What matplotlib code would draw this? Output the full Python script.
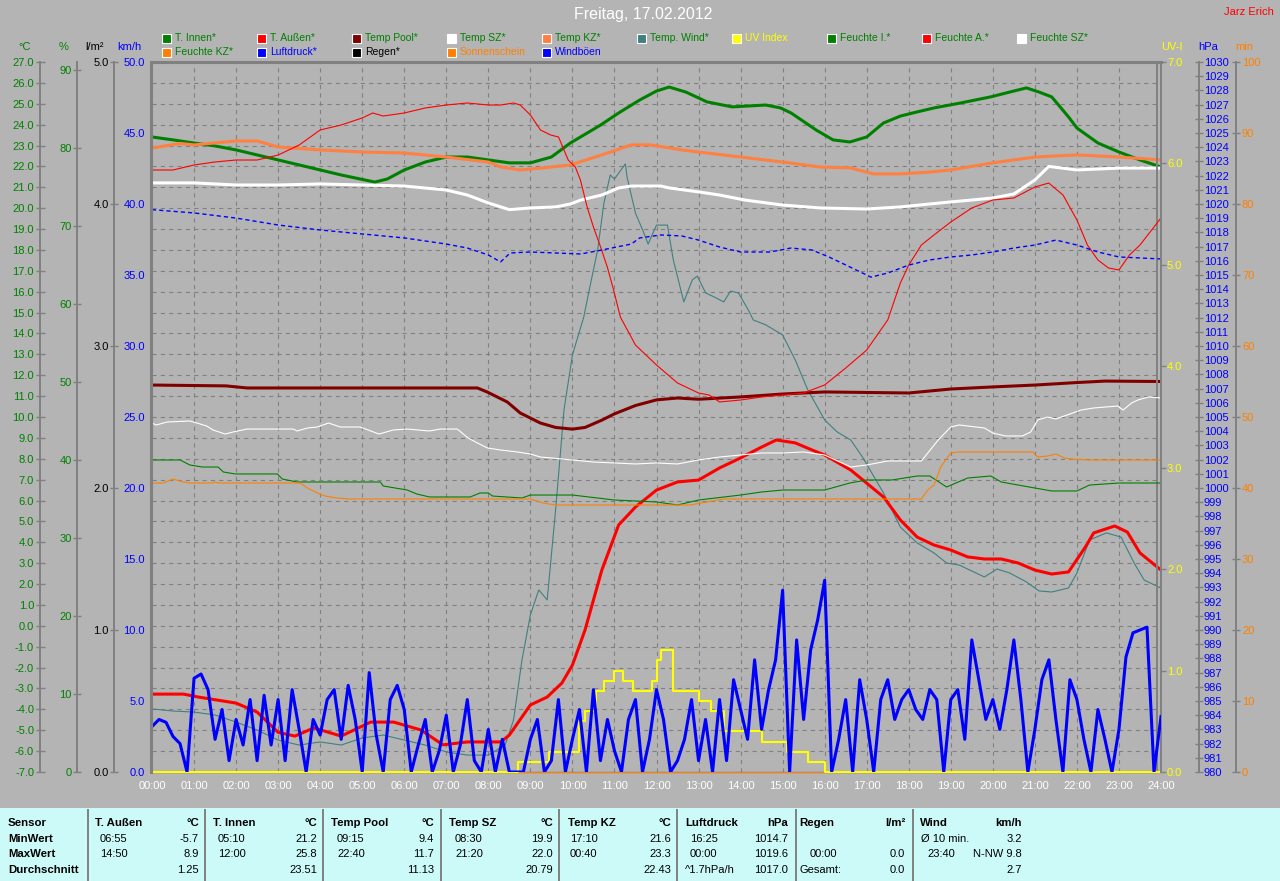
import numpy as np
import matplotlib
matplotlib.use('Agg')
import matplotlib.pyplot as plt
from matplotlib.patches import Rectangle
from matplotlib.lines import Line2D

plt.rcParams['font.family'] = ['Liberation Sans', 'DejaVu Sans']
plt.rcParams['lines.scale_dashes'] = False
plt.rcParams['axes.unicode_minus'] = False

# ---------------- data (hours of day / values) ----------------
t_innen_t = [0, 0.5, 1, 1.5, 2, 2.5, 3, 3.5, 4, 4.5, 5.3, 5.6, 6.0, 6.5, 7.0, 7.5, 8.0, 8.5, 9.0, 9.5,
             9.95, 10.67, 11.1, 11.6, 12.0, 12.3, 12.7, 13.2, 13.8, 14.6, 14.95, 15.2, 15.8, 16.2, 16.6,
             17.0, 17.4, 17.8, 18.2, 18.6, 19.24, 19.95, 20.4, 20.8, 21.1, 21.4, 21.6, 21.8, 22.0, 22.5,
             23.0, 23.5, 24.0]
t_innen_v = [23.41, 23.27, 23.12, 22.98, 22.79, 22.55, 22.31, 22.07, 21.83, 21.59, 21.25, 21.4, 21.83,
             22.21, 22.45, 22.45, 22.31, 22.17, 22.17, 22.45, 23.12, 23.98, 24.56, 25.18, 25.61, 25.8,
             25.56, 25.09, 24.85, 24.94, 24.80, 24.56, 23.74, 23.27, 23.17, 23.41, 24.08, 24.41, 24.61,
             24.80, 25.04, 25.33, 25.56, 25.76, 25.56, 25.33, 24.85, 24.37, 23.84, 23.12, 22.69, 22.31, 21.97]

t_aussen_t = [0, 0.75, 1.1, 2.0, 2.5, 3.0, 3.4, 3.85, 4.5, 5.2, 5.75, 6.4, 6.92, 7.5, 8.3, 8.5, 8.75,
              9.0, 9.4, 9.75, 10.0, 10.3, 10.7, 11.1, 11.5, 12.0, 12.5, 13.0, 13.5, 14.0, 14.5, 14.85,
              15.3, 15.7, 16.0, 16.62, 17.4, 17.8, 18.2, 18.6, 19.0, 19.4, 19.8, 20.2, 20.6, 21.0, 21.4,
              21.8, 22.2, 22.4, 22.9, 23.2, 23.5, 24.0]
t_aussen_v = [-3.27, -3.27, -3.41, -3.70, -4.13, -5.10, -5.28, -4.89, -5.28, -4.61, -4.61, -4.99, -5.70,
              -5.56, -5.56, -5.23, -4.51, -3.79, -3.41, -2.74, -1.88, -0.20, 2.67, 4.83, 5.69, 6.50, 6.89,
              6.98, 7.56, 8.04, 8.56, 8.90, 8.76, 8.42, 8.18, 7.46, 6.17, 5.07, 4.25, 3.87, 3.63, 3.30,
              3.20, 3.20, 3.01, 2.67, 2.48, 2.58, 3.77, 4.45, 4.78, 4.49, 3.49, 2.67]

pool_t = [0, 1.76, 2.26, 7.74, 7.97, 8.45, 8.76, 9.24, 9.6, 10.0, 10.3, 10.7, 11.0, 11.5, 12.0, 12.5,
          13.0, 14.0, 15.0, 16.0, 18.0, 19.0, 20.0, 21.0, 22.0, 22.67, 24.0]
pool_v = [11.53, 11.49, 11.39, 11.39, 11.20, 10.72, 10.19, 9.71, 9.50, 9.42, 9.50, 9.85, 10.15, 10.55,
          10.82, 10.91, 10.85, 10.96, 11.10, 11.20, 11.15, 11.34, 11.44, 11.53, 11.65, 11.72, 11.70]

sz_t = [0, 1, 2, 3, 4, 5, 6, 7, 7.5, 8.0, 8.5, 9.0, 9.6, 9.95, 10.2, 10.7, 11.1, 11.4, 12.1, 12.3, 13.0,
        13.5, 14.1, 15.0, 15.9, 17.0, 17.8, 18.5, 19.0, 19.5, 20.0, 20.5, 21.0, 21.33, 22.0, 23.0, 24.0]
sz_v = [21.21, 21.21, 21.11, 21.11, 21.16, 21.11, 21.06, 20.87, 20.63, 20.25, 19.93, 20.01, 20.06, 20.20,
        20.39, 20.63, 20.97, 21.06, 21.06, 20.97, 20.78, 20.63, 20.39, 20.15, 20.01, 19.96, 20.06, 20.20,
        20.30, 20.39, 20.49, 20.68, 21.35, 22.0, 21.83, 21.92, 21.92]

kz_t = [0, 0.67, 1.0, 2.0, 2.5, 3.0, 4.0, 5.0, 6.0, 7.0, 8.0, 8.3, 8.76, 9.3, 9.95, 10.7, 11.4, 11.86,
        12.6, 13.0, 14.0, 15.0, 15.9, 16.6, 17.17, 17.8, 18.5, 19.0, 20.0, 21.0, 22.0, 23.0, 24.0]
kz_v = [22.88, 23.10, 23.03, 23.22, 23.22, 22.93, 22.79, 22.69, 22.64, 22.45, 22.21, 21.97, 21.83, 21.93,
        22.07, 22.55, 23.03, 23.03, 22.79, 22.69, 22.45, 22.21, 21.97, 21.93, 21.64, 21.64, 21.73, 21.83,
        22.17, 22.45, 22.55, 22.45, 22.31]

twind_t = [0, 0.5, 1.0, 1.5, 2.0, 2.5, 3.0, 3.5, 4.0, 4.5, 5.0, 5.5, 6.0, 6.5, 7.0, 7.5, 8.0, 8.4, 8.6,
           8.8, 9.0, 9.2, 9.4, 9.6, 9.8, 10.0, 10.27, 10.4, 10.6, 10.75, 10.9, 11.0, 11.26, 11.3, 11.5,
           11.7, 11.8, 12.0, 12.26, 12.4, 12.65, 12.85, 12.97, 13.17, 13.37, 13.6, 13.76, 13.95, 14.2,
           14.3, 14.6, 15.0, 15.3, 15.6, 16.0, 16.3, 16.62, 16.9, 17.4, 17.8, 18.2, 18.6, 18.9, 19.2,
           19.8, 20.1, 20.4, 20.8, 21.1, 21.4, 21.8, 22.0, 22.3, 22.7, 23.05, 23.36, 23.6, 24.0]
twind_v = [-3.98, -4.08, -4.13, -4.27, -4.61, -4.99, -5.47, -5.71, -5.56, -5.71, -5.37, -5.23, -5.47,
           -5.71, -6.04, -6.19, -6.19, -5.71, -4.51, -1.64, 0.52, 1.72, 1.24, 5.55, 10.34, 12.97, 14.79,
           16.08, 18.00, 20.25, 21.59, 21.40, 22.12, 21.49, 19.76, 18.81, 18.28, 19.19, 19.19, 17.52,
           15.51, 16.56, 16.75, 15.94, 15.75, 15.51, 16.03, 15.94, 15.07, 14.65, 14.41, 13.93, 12.73,
           11.29, 9.86, 9.28, 8.90, 8.08, 6.36, 4.73, 3.97, 3.49, 3.01, 2.91, 2.34, 2.72, 2.53, 2.10,
           1.67, 1.62, 1.81, 2.53, 4.11, 4.45, 4.25, 3.01, 2.19, 1.81]

uv_t = [0, 8.7, 9.45, 10.15, 10.3, 10.55, 10.75, 11.0, 11.2, 11.45, 11.9, 12.0, 12.1, 12.4, 13.0, 13.3,
        13.6, 13.9, 14.5, 14.8, 15.1, 15.6, 16.0, 24]
uv_v = [0.0, 0.1, 0.2, 0.5, 0.6, 0.8, 0.9, 1.0, 0.9, 0.8, 0.9, 1.1, 1.2, 0.8, 0.7, 0.6, 0.4, 0.4, 0.3,
        0.3, 0.2, 0.1, 0.0, 0.0]

fi_t = [0, 0.67, 0.9, 1.2, 1.57, 1.7, 1.98, 2.98, 3.1, 3.45, 5.43, 5.5, 6.07, 6.3, 6.6, 7.57, 7.8, 8.0,
        8.1, 8.8, 9.0, 10.0, 11.0, 12.0, 12.5, 13.0, 14.0, 14.5, 15.0, 16.0, 16.6, 17.0, 17.6, 18.2, 18.5,
        18.9, 19.4, 19.95, 20.2, 21.0, 21.4, 22.0, 22.3, 23.0, 24.0]
fi_v = [40.0, 40.0, 39.36, 39.10, 39.10, 38.46, 38.21, 38.21, 37.56, 37.18, 37.18, 36.67, 36.15, 35.64,
        35.26, 35.26, 35.77, 35.77, 35.38, 35.13, 35.51, 35.51, 34.87, 34.62, 34.23, 34.87, 35.51, 35.90,
        36.15, 36.15, 37.05, 37.44, 37.44, 37.95, 37.95, 36.54, 37.69, 37.95, 37.18, 36.41, 36.03, 36.03,
        36.79, 37.05, 37.05]

fa_t = [0, 0.5, 1.0, 1.5, 2.0, 2.5, 3.0, 3.5, 4.0, 4.5, 5.0, 5.25, 5.5, 6.0, 6.5, 7.0, 7.5, 8.0, 8.29,
        8.6, 8.76, 9.0, 9.24, 9.48, 9.67, 9.8, 9.9, 10.07, 10.19, 10.35, 10.5, 10.67, 10.83, 10.98,
        11.14, 11.5, 12.0, 12.5, 13.0, 13.25, 13.5, 14.0, 14.5, 15.0, 15.5, 16.0, 16.5, 17.0, 17.5,
        17.8, 18.0, 18.3, 18.6, 19.0, 19.5, 20.0, 20.5, 21.0, 21.33, 21.67, 22.0, 22.25, 22.5, 22.75,
        23.0, 23.25, 23.5, 24.0]
fa_v = [77.18, 77.18, 77.82, 78.21, 78.46, 78.46, 79.10, 80.38, 82.31, 82.95, 83.85, 84.49, 84.10,
        84.49, 85.13, 85.51, 85.77, 85.51, 85.51, 85.77, 85.51, 84.23, 82.31, 81.67, 81.41, 79.74,
        78.46, 77.56, 75.90, 72.44, 69.87, 67.31, 64.74, 61.79, 58.33, 54.74, 52.18, 49.87, 48.59,
        48.33, 47.44, 47.69, 48.08, 48.33, 48.59, 49.62, 51.79, 54.10, 57.95, 62.69, 65.0, 67.56,
        68.85, 70.51, 72.31, 73.33, 73.59, 75.0, 75.51, 73.97, 70.77, 67.56, 65.64, 64.62, 64.36,
        66.28, 67.56, 71.03]

fsz_t = [0, 0.1, 0.36, 0.9, 1.07, 1.3, 1.45, 1.74, 1.93, 2.26, 3.36, 3.45, 3.7, 3.93, 4.2, 4.48, 4.95,
         5.4, 5.74, 6.07, 6.6, 6.86, 7.26, 7.52, 7.74, 7.98, 8.29, 8.69, 9.0, 9.24, 9.5, 10.0, 10.5,
         11.0, 11.5, 12.0, 12.5, 13.0, 13.5, 14.0, 14.5, 15.0, 15.5, 16.0, 16.62, 17.0, 17.5, 18.3,
         18.7, 19.0, 19.2, 19.8, 20.0, 20.3, 20.7, 20.9, 21.07, 21.3, 21.5, 21.9, 22.1, 22.4, 22.97,
         23.1, 23.3, 23.45, 23.7, 24.0]
fsz_v = [44.74, 44.49, 44.87, 45.0, 44.74, 44.36, 43.85, 43.33, 43.59, 43.97, 43.97, 43.72, 44.10,
         44.23, 44.74, 44.23, 44.23, 43.33, 43.85, 43.97, 43.72, 43.97, 43.97, 42.82, 42.18, 41.54,
         41.28, 41.03, 40.77, 40.38, 40.26, 40.0, 39.74, 39.62, 39.49, 39.62, 39.49, 40.0, 40.38,
         40.64, 40.90, 40.90, 41.03, 40.64, 39.10, 39.36, 39.87, 39.87, 42.56, 44.23, 44.49, 44.10,
         43.46, 43.08, 43.08, 43.59, 45.13, 45.51, 45.26, 46.03, 46.41, 46.67, 46.92, 46.41, 47.31,
         47.69, 48.08, 47.95]

fkz_t = [0, 0.27, 0.5, 0.74, 0.9, 1.43, 1.5, 1.6, 3.52, 3.7, 3.93, 4.12, 4.4, 4.7, 9.0, 9.3, 9.6, 12.8,
         13.2, 13.6, 18.3, 18.45, 18.6, 18.76, 19.0, 19.17, 20.95, 21.07, 21.3, 21.5, 21.7, 21.86, 22.3,
         24.0]
fkz_v = [37.05, 37.05, 37.56, 37.18, 37.05, 37.05, 37.18, 37.05, 37.05, 36.41, 35.77, 35.38, 35.13,
         35.0, 35.0, 34.49, 34.23, 34.23, 34.62, 35.0, 35.0, 36.15, 36.79, 39.10, 40.90, 41.03, 41.03,
         40.38, 40.51, 40.77, 40.26, 40.13, 40.0, 40.0]

druck_t = [0, 1, 2, 3, 4, 5, 6, 7, 7.5, 8.0, 8.29, 8.52, 9.0, 10.2, 10.7, 11.4, 11.6, 12.1, 12.6, 13.0,
           13.5, 14.0, 14.7, 15.2, 15.7, 16.1, 16.4, 16.9, 17.1, 17.5, 18.0, 18.5, 19.0, 19.5, 20.0,
           20.5, 21.0, 21.5, 22.0, 22.5, 23.0, 23.5, 24.0]
druck_v = [1019.60, 1019.37, 1019.01, 1018.52, 1018.17, 1017.89, 1017.61, 1017.18, 1016.90, 1016.41,
           1015.92, 1016.55, 1016.62, 1016.48, 1016.76, 1017.18, 1017.61, 1017.82, 1017.75, 1017.46,
           1016.97, 1016.62, 1016.62, 1016.90, 1016.76, 1016.27, 1015.85, 1015.14, 1014.85, 1015.14,
           1015.70, 1016.06, 1016.27, 1016.41, 1016.62, 1016.90, 1017.11, 1017.46, 1017.11, 1016.62,
           1016.27, 1016.20, 1016.13]

regen_t = [0, 24]
regen_v = [0.0, 0.0]
sonne_t = [0, 24]
sonne_v = [0.0, 0.0]

# wind gusts, one value every 10 minutes from 00:00 to 24:00
boeen_v = [3.2, 3.7, 3.5, 2.5, 2.0, 0.0,
           6.6, 6.9, 5.8, 2.3, 4.4, 0.8,
           3.7, 1.9, 5.1, 0.8, 5.4, 1.9,
           5.1, 0.8, 5.8, 3.0, 0.0, 3.7,
           2.6, 5.1, 5.8, 2.3, 6.1, 3.7,
           0.0, 7.0, 2.6, 0.0, 5.1, 6.1,
           4.4, 0.0, 1.9, 3.7, 0.0, 1.5,
           4.0, 0.0, 1.9, 5.1, 0.8, 0.0,
           3.0, 0.0, 2.3, 0.0, 0.0, 0.0,
           2.3, 3.7, 0.0, 0.8, 5.1, 0.0,
           2.3, 4.4, 0.0, 5.8, 0.8, 3.7,
           1.5, 0.0, 3.7, 5.1, 0.0, 2.3,
           5.8, 3.7, 0.0, 0.8, 2.3, 5.1,
           0.8, 3.7, 0.0, 5.1, 0.8, 6.5,
           4.4, 2.3, 7.9, 3.0, 5.8, 7.9,
           12.8, 0.0, 9.3, 3.7, 8.6, 10.7,
           13.5, 0.0, 2.3, 5.1, 0.0, 6.5,
           3.7, 0.0, 5.1, 6.5, 3.7, 5.1,
           5.8, 4.4, 3.7, 5.8, 5.1, 0.0,
           5.1, 5.8, 2.3, 9.3, 6.5, 3.7,
           5.1, 3.0, 5.8, 9.3, 5.1, 0.0,
           3.0, 6.5, 7.9, 3.7, 0.0, 6.5,
           5.1, 2.3, 0.0, 4.4, 2.3, 0.0,
           3.0, 8.1, 9.8, 10.0, 10.2, 0.0,
           3.9]
boeen_t = np.linspace(0, 24, len(boeen_v))

hour_ticks = list(range(25))
hour_labels = [f'{h:02d}:00' for h in hour_ticks]

legend_labels = ['T. Innen*', 'T. Außen*', 'Temp Pool*', 'Temp SZ*', 'Temp KZ*', 'Temp. Wind*',
                 'UV Index', 'Feuchte I.*', 'Feuchte A.*', 'Feuchte SZ*',
                 'Feuchte KZ*', 'Luftdruck*', 'Regen*', 'Sonnenschein', 'Windböen']

tab_sensor = ['T. Außen', 'T. Innen', 'Temp Pool', 'Temp SZ', 'Temp KZ', 'Luftdruck', 'Regen', 'Wind']
tab_unit = ['°C', '°C', '°C', '°C', '°C', 'hPa', 'l/m²', 'km/h']
tab_min_time = ['06:55', '05:10', '09:15', '08:30', '17:10', '16:25', '', 'Ø 10 min.']
tab_min_val = ['-5.7', '21.2', '9.4', '19.9', '21.6', '1014.7', '', '3.2']
tab_max_time = ['14:50', '12:00', '22:40', '21:20', '00:40', '00:00', '00:00', '23:40']
tab_max_val = ['8.9', '25.8', '11.7', '22.0', '23.3', '1019.6', '0.0', 'N-NW 9.8']
tab_avg_label = ['', '', '', '', '', '^1.7hPa/h', 'Gesamt:', '']
tab_avg_val = ['1.25', '23.51', '11.13', '20.79', '22.43', '1017.0', '0.0', '2.7']
tab_rows = ['Sensor', 'MinWert', 'MaxWert', 'Durchschnitt']

# ---------------- styling ----------------
GREEN = '#008000'
RED = '#ff0000'
DRED = '#800000'
WHITE = '#ffffff'
CORAL = '#ff8040'
TEAL = '#408080'
YELLOW = '#ffff00'
BLUE = '#0000ff'
ORANGE = '#ff8000'
BLACK = '#000000'
BG = '#b4b4b4'
GRID = '#808080'
TABLE_BG = '#ccfaf8'

W, H = 1280, 881
fig = plt.figure(figsize=(W / 100, H / 100), dpi=100, facecolor=BG)


def fx(x):
    return x / W


def fy(y):
    return 1 - y / H


X0, X1, Y0, Y1 = 152, 1161, 62, 772
rect = [fx(X0), fy(Y1), (X1 - X0) / W, (Y1 - Y0) / H]


def apos(xpix):
    return (xpix - X0) / (X1 - X0)


PX = 0.72  # points per pixel

# main (°C) axis with grid
axC = fig.add_axes(rect, facecolor=BG)
axC.set_xlim(0, 24)
axC.set_ylim(-7, 27)
for s in axC.spines.values():
    s.set_visible(False)
axC.spines['left'].set_visible(True)
axC.spines['left'].set_position(('axes', apos(40)))
axC.spines['left'].set_color(GRID)
axC.spines['left'].set_linewidth(1.4)
axC.spines['top'].set_visible(True)
axC.spines['top'].set_color(GRID)
axC.spines['top'].set_linewidth(2.2)
axC.spines['right'].set_visible(True)
axC.spines['right'].set_position(('axes', apos(1157)))
axC.spines['right'].set_color(GRID)
axC.spines['right'].set_linewidth(1.4)
c_ticks = list(range(-7, 28))
axC.set_yticks(c_ticks)
axC.set_yticklabels([f'{v:.1f}' for v in c_ticks])
axC.tick_params(axis='y', direction='inout', length=9 * PX, width=1, color=GRID,
                labelcolor=GREEN, labelsize=8, pad=1.5 * PX)
axC.set_xticks(hour_ticks)
axC.set_xticklabels(hour_labels)
axC.tick_params(axis='x', length=0, pad=9 * PX, labelcolor=WHITE, labelsize=8)
axC.grid(True, color=GRID, linestyle=(0, (3, 3)), linewidth=0.8)
axC.set_axisbelow(True)


def extra_axis(ylim, side, xpix, ticks, labels, color, direction, length_px, pad_px, spine_lw=1.4):
    a = fig.add_axes(rect, facecolor='none')
    a.patch.set_visible(False)
    a.set_xlim(0, 24)
    a.set_ylim(*ylim)
    for s in a.spines.values():
        s.set_visible(False)
    sp = a.spines[side]
    sp.set_visible(True)
    sp.set_position(('axes', apos(xpix)))
    sp.set_color(GRID)
    sp.set_linewidth(spine_lw)
    if side == 'left':
        a.yaxis.tick_left()
    else:
        a.yaxis.tick_right()
    a.set_yticks(ticks)
    a.set_yticklabels(labels)
    a.tick_params(axis='y', direction=direction, length=length_px * PX, width=1, color=GRID,
                  labelcolor=color, labelsize=8, pad=pad_px * PX)
    a.tick_params(axis='x', bottom=False, labelbottom=False, top=False, labeltop=False)
    return a


p_ticks = list(range(0, 100, 10))
axP = extra_axis((0, (Y1 - Y0) / 7.8), 'left', 77, p_ticks, [f'{v:d}' for v in p_ticks], GREEN,
                 'inout', 8, 1.5)
l_ticks = [0, 1, 2, 3, 4, 5]
axL = extra_axis((0, 5), 'left', 114, l_ticks, [f'{v:.1f}' for v in l_ticks], BLACK, 'inout', 8, 1.5)
h_ticks = list(range(980, 1031))
axH = extra_axis((980, 1030), 'right', 1199, h_ticks, [f'{v:d}' for v in h_ticks], BLUE, 'inout', 8, 1)
m_ticks = list(range(0, 101, 10))
axM = extra_axis((0, 100), 'right', 1236, m_ticks, [f'{v:d}' for v in m_ticks], ORANGE, 'inout', 8, 2)
uv_ticks = list(range(0, 8))
axU = extra_axis((0, 7), 'right', 1161, uv_ticks, [f'{v:.1f}' for v in uv_ticks], YELLOW, 'out', 5, 1)
k_ticks = list(range(0, 51, 5))
axK = extra_axis((0, 50), 'left', 151, k_ticks, [f'{v:.1f}' for v in k_ticks], BLUE, 'out', 0, 6,
                 spine_lw=2.2)

THICK = 2.2
THIN = 0.8

# rain & sunshine (zero all day, drawn underneath everything)
axL.plot(regen_t, regen_v, color=BLACK, lw=0.8, clip_on=False)
axM.plot(sonne_t, sonne_v, color=ORANGE, lw=0.8, clip_on=False)

# humidity (%)
axP.plot(fi_t, fi_v, color=GREEN, lw=THIN)
axP.plot(fkz_t, fkz_v, color=ORANGE, lw=THIN)
axP.plot(fsz_t, fsz_v, color=WHITE, lw=THIN)
axP.plot(fa_t, fa_v, color=RED, lw=THIN)

# temperatures (°C)
axC.plot(twind_t, twind_v, color=TEAL, lw=THIN)
axC.plot(t_innen_t, t_innen_v, color=GREEN, lw=THICK)
axC.plot(kz_t, kz_v, color=CORAL, lw=THICK)
axC.plot(sz_t, sz_v, color=WHITE, lw=THICK)
axC.plot(pool_t, pool_v, color=DRED, lw=THICK)
axC.plot(t_aussen_t, t_aussen_v, color=RED, lw=THICK)

# pressure
axH.plot(druck_t, druck_v, color=BLUE, lw=1.0, linestyle=(0, (3, 2.2)))

# UV
axU.plot(uv_t, uv_v, color=YELLOW, lw=1.5, drawstyle='steps-post', clip_on=False)

# wind gusts
axK.plot(boeen_t, boeen_v, color=BLUE, lw=THICK)

# ---------------- texts ----------------
fig.text(fx(643), fy(15), 'Freitag, 17.02.2012', color=WHITE, fontsize=11.5, ha='center', va='center')
fig.text(fx(1249), fy(12), 'Jarz Erich', color=RED, fontsize=8, ha='center', va='center')

unit_labels = [('°C', 25, GREEN), ('%', 64, GREEN), ('l/m²', 95, BLACK), ('km/h', 129, BLUE),
               ('UV-I', 1172, YELLOW), ('hPa', 1208, BLUE), ('min', 1244, ORANGE)]
for txt, xc, col in unit_labels:
    fig.text(fx(xc), fy(47), txt, color=col, fontsize=8, ha='center', va='center')

# legend
legend_box_colors = [GREEN, RED, DRED, WHITE, CORAL, TEAL, YELLOW, GREEN, RED, WHITE,
                     ORANGE, BLUE, BLACK, ORANGE, BLUE]
legend_text_colors = [GREEN, GREEN, GREEN, GREEN, GREEN, GREEN, YELLOW, GREEN, GREEN, GREEN,
                      GREEN, BLUE, BLACK, ORANGE, BLUE]
for i, lab in enumerate(legend_labels):
    col = i if i < 10 else i - 10
    yc = 38 if i < 10 else 52
    x = 162 + 95 * col
    fig.add_artist(Rectangle((fx(x), fy(yc + 5)), 9 / W, 9 / H, transform=fig.transFigure,
                             facecolor=legend_box_colors[i], edgecolor=WHITE, lw=0.8))
    fig.text(fx(x + 13), fy(yc), lab, color=legend_text_colors[i], fontsize=7.5, ha='left', va='center')

# ---------------- table ----------------
fig.add_artist(Rectangle((0, 0), 1, (H - 808) / H, transform=fig.transFigure,
                         facecolor=TABLE_BG, edgecolor='none'))
block_x = [88, 205, 323, 441, 559, 677, 796, 913]
name_x = [95, 213, 331, 449, 568, 685, 799, 920]
time_x = [100, 218, 337, 455, 570, 690, 810, 921]
right_x = [199, 317, 434, 553, 671, 788, 905, 1022]
row_y = [823, 839, 854, 870]

for bx in block_x:
    fig.add_artist(Line2D([fx(bx), fx(bx)], [fy(810), fy(881)], transform=fig.transFigure,
                          color=GRID, lw=1.4))
for j, lab in enumerate(tab_rows):
    fig.text(fx(8), fy(row_y[j]), lab, fontsize=8.2, fontweight='bold', ha='left', va='center')
for i in range(len(tab_sensor)):
    fig.text(fx(name_x[i]), fy(row_y[0]), tab_sensor[i], fontsize=8.2, fontweight='bold',
             ha='left', va='center')
    fig.text(fx(right_x[i]), fy(row_y[0]), tab_unit[i], fontsize=8.2, fontweight='bold',
             ha='right', va='center')
    fig.text(fx(time_x[i]), fy(row_y[1]), tab_min_time[i], fontsize=8, ha='left', va='center')
    fig.text(fx(right_x[i]), fy(row_y[1]), tab_min_val[i], fontsize=8, ha='right', va='center')
    tx = time_x[i] + (6 if tab_sensor[i] == 'Wind' else 0)
    fig.text(fx(tx), fy(row_y[2]), tab_max_time[i], fontsize=8, ha='left', va='center')
    fig.text(fx(right_x[i]), fy(row_y[2]), tab_max_val[i], fontsize=8, ha='right', va='center')
    fig.text(fx(name_x[i]), fy(row_y[3]), tab_avg_label[i], fontsize=8, ha='left', va='center')
    fig.text(fx(right_x[i]), fy(row_y[3]), tab_avg_val[i], fontsize=8, ha='right', va='center')

fig.savefig('out.png', dpi=100, facecolor=BG)
